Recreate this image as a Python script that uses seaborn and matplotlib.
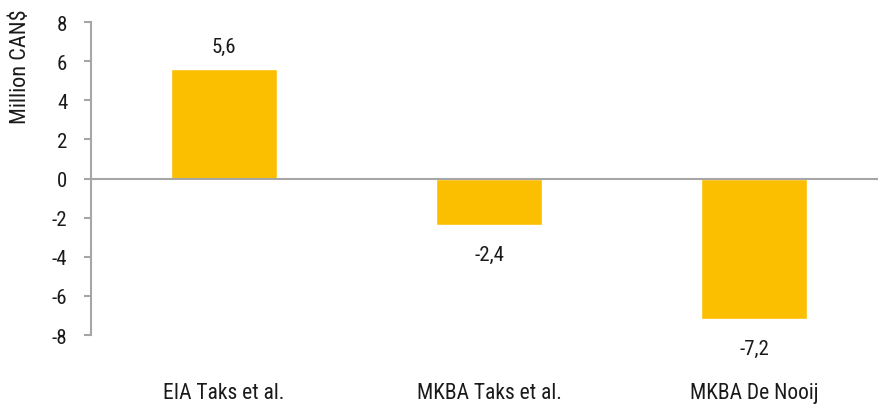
import pandas as pd
import matplotlib
matplotlib.use("Agg")
import matplotlib.pyplot as plt
import seaborn as sns

# chart data
studies = ["EIA Taks et al.", "MKBA Taks et al.", "MKBA De Nooij"]
values = [5.6, -2.4, -7.2]
value_labels = ["5,6", "-2,4", "-7,2"]

df = pd.DataFrame({"study": studies, "value": values})

sns.set_style("white")
plt.rcParams["font.family"] = ["Roboto Condensed", "DejaVu Sans"]
plt.rcParams["axes.unicode_minus"] = False

fig = plt.figure(figsize=(8.79, 4.06), dpi=100)
ax = fig.add_axes([0.1035, 0.1724, 0.8965, 0.7709])

sns.barplot(x="study", y="value", data=df, color="#FCBF00", width=0.4,
            saturation=1, ax=ax)

ax.axhline(0, color="#A6A6A6", linewidth=1.5, zorder=3)
ax.set_ylim(-8, 8)
ax.set_xlim(-0.5, 2.47)
ax.set_yticks(range(-8, 9, 2))
ax.set_ylabel("Million CAN$", fontsize=16, color="#1a1a1a")
ax.yaxis.set_label_coords(-0.076, 0.86)
ax.set_xlabel("")

for s in ["top", "right", "bottom"]:
    ax.spines[s].set_visible(False)
ax.spines["left"].set_color("#A6A6A6")
ax.spines["left"].set_linewidth(1.5)

ax.tick_params(axis="y", left=True, length=5, width=1.5, color="#A6A6A6",
               labelsize=15, labelcolor="#1a1a1a", pad=12)
ax.tick_params(axis="x", bottom=False, length=0, labelsize=15.5,
               labelcolor="#1a1a1a", pad=34)

for i, (v, lab) in enumerate(zip(values, value_labels)):
    off = 16 if v > 0 else -21
    ax.annotate(lab, (i, v), xytext=(0, off), textcoords="offset points",
                ha="center", va="center", fontsize=15, color="#1a1a1a")

fig.savefig("out.png", dpi=100)
